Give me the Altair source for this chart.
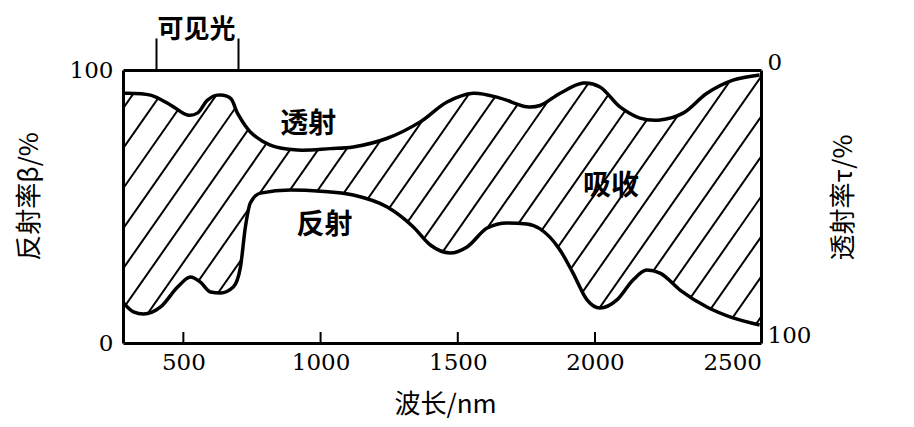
import altair as alt
import numpy as np
import pandas as pd

# ---- data ----
# transmission tau (%) (right axis, 0 at top)
wl_t = [282, 380, 453, 515, 551, 588, 624, 671, 697, 744, 817, 915, 1035, 1119, 1243,
        1363, 1461, 1556, 1654, 1752, 1800, 1873, 1957, 2018, 2091, 2164, 2237, 2321,
        2408, 2503, 2600]
tau = [8.5, 9.2, 12.8, 16.5, 15.8, 11.0, 9.2, 10.3, 15.8, 22.7, 27.5, 29.3, 28.8, 28.2, 25.0,
       19.0, 11.7, 8.5, 10.3, 13.5, 13.0, 8.5, 4.8, 6.2, 13.5, 17.6, 18.3, 15.8,
       8.5, 3.7, 1.8]

# reflectance beta (%) (left axis)
wl_r = [282, 318, 355, 417, 479, 526, 562, 599, 635, 682, 708, 726, 744, 781, 890, 1000,
        1119, 1243, 1338, 1400, 1472, 1534, 1607, 1680, 1752, 1800, 1873, 1920, 1971,
        2018, 2080, 2138, 2189, 2237, 2310, 2408, 2503, 2600]
beta = [14.7, 11.4, 10.6, 13.2, 20.5, 24.2, 22.3, 18.7, 18.3, 20.5, 27.8, 42.5, 51.3, 54.9,
        56.0, 55.6, 54.2, 49.8, 42.5, 35.9, 33.0, 35.2, 42.1, 44.0, 43.6, 41.8, 34.0, 25.6,
        15.8, 12.8, 15.8, 23.0, 26.7, 25.6, 19.4, 13.2, 9.2, 6.6]

x_ticks = [500, 1000, 1500, 2000, 2500]
inner_ticks = [500, 1000, 1500, 2000]
visible_band = [400, 700]

label_text = ["透射", "反射", "吸收"]
label_wl = [955, 1014, 2058]
label_val = [80.0, 42.9, 57.1]

# ---- tables ----
trans_df = pd.DataFrame({"wl": wl_t, "tau": tau})
refl_df = pd.DataFrame({"wl": wl_r, "beta": beta})
tick_df = pd.DataFrame({"wl": inner_ticks})
lab_df = pd.DataFrame({"wl": label_wl, "val": label_val, "text": label_text})

# hatch pattern (style only): diagonal lines across the plot
hatch_step, hatch_run = 102, 695
x0s = np.arange(2029 - 25 * hatch_step, 2605, hatch_step)
hatch_df = pd.DataFrame({"x0": x0s, "x1": x0s + hatch_run, "y0": 0, "y1": 100})

SERIF = "DejaVu Serif"
CJK = "Noto Sans CJK SC"

xs = alt.Scale(domain=[280, 2605], nice=False, zero=False)
ys = alt.Scale(domain=[0, 100], nice=False, zero=True)

bottom_axis = alt.Axis(orient="bottom", values=x_ticks, format="d", ticks=False, grid=False,
                       domainWidth=3, domainColor="black", labelFont=SERIF,
                       labelFontSize=23, labelColor="black", labelPadding=8,
                       labelFlush=False, title="波长/nm", titleFont=CJK,
                       titleFontSize=26, titleFontWeight="normal", titleColor="black",
                       titleX=322, titleY=61, titleAlign="center",
                       titleBaseline="middle", zindex=2)
left_axis = alt.Axis(orient="left", values=[0, 100], format="d", ticks=False, grid=False,
                     domainWidth=3, domainColor="black", labelFont=SERIF,
                     labelFontSize=23, labelColor="black", labelPadding=10,
                     title="反射率β/%", titleFont=CJK, titleFontSize=26,
                     titleFontWeight="normal", titleColor="black", titleX=-94,
                     titleY=126, titleAngle=270, titleAlign="center",
                     titleBaseline="middle", zindex=2)
right_axis = alt.Axis(orient="right", values=[0, 100], labelExpr="100 - datum.value",
                      ticks=False, grid=False, domainWidth=3, domainColor="black",
                      labelFont=SERIF, labelFontSize=23, labelColor="black",
                      labelPadding=6, labelOffset=-8, title="透射率τ/%",
                      titleFont=CJK, titleFontSize=26, titleFontWeight="normal",
                      titleColor="black", titleX=82, titleY=127, titleAngle=270,
                      titleAlign="center", titleBaseline="middle", zindex=2)
top_axis = alt.Axis(orient="top", values=visible_band, labels=False, grid=False,
                    tickSize=32, tickWidth=2, tickColor="black", domainWidth=3,
                    domainColor="black", title="可见光", titleFont=CJK,
                    titleFontSize=26, titleFontWeight="bold", titleColor="black",
                    titleX=73, titleY=-41, titleAlign="center",
                    titleBaseline="middle", zindex=2)

hatch = alt.Chart(hatch_df).mark_rule(color="black", strokeWidth=2, clip=True).encode(
    x=alt.X("x0:Q", scale=xs, axis=bottom_axis),
    x2="x1:Q",
    y=alt.Y("y0:Q", scale=ys, axis=left_axis),
    y2="y1:Q",
)

mask_bottom = alt.Chart(refl_df).mark_area(color="white", interpolate="monotone", opacity=1).encode(
    x=alt.X("wl:Q", scale=xs, axis=None),
    y=alt.Y("beta:Q", scale=ys, axis=None),
)

mask_top = alt.Chart(trans_df).transform_calculate(
    boundary="100 - datum.tau", top="100"
).mark_area(color="white", interpolate="catmull-rom", opacity=1).encode(
    x=alt.X("wl:Q", scale=xs, axis=None),
    y=alt.Y("boundary:Q", scale=ys, axis=None),
    y2="top:Q",
)

line_bottom = alt.Chart(refl_df).mark_line(color="black", strokeWidth=3.5, interpolate="monotone").encode(
    x=alt.X("wl:Q", scale=xs, axis=None),
    y=alt.Y("beta:Q", scale=ys, axis=None),
)

line_top = alt.Chart(trans_df).transform_calculate(
    boundary="100 - datum.tau"
).mark_line(color="black", strokeWidth=3.5, interpolate="catmull-rom").encode(
    x=alt.X("wl:Q", scale=xs, axis=top_axis),
    y=alt.Y("boundary:Q", scale=ys, axis=right_axis),
)

ticks = alt.Chart(tick_df).mark_rule(color="black", strokeWidth=2).encode(
    x=alt.X("wl:Q", scale=xs, axis=None),
    y=alt.value(273),
    y2=alt.value(262),
)

texts = alt.Chart(lab_df).mark_text(font=CJK, fontSize=28, fontWeight="bold", color="black").encode(
    x=alt.X("wl:Q", scale=xs, axis=None),
    y=alt.Y("val:Q", scale=ys, axis=None),
    text="text:N",
)

chart = alt.layer(hatch, mask_bottom, mask_top, line_bottom, line_top, ticks, texts).resolve_axis(
    x="independent", y="independent"
).properties(
    width=638, height=273,
    autosize=alt.AutoSizeParams(type="none"),
    padding={"left": 115, "top": 62, "right": 145, "bottom": 76},
    background="white",
).configure_view(strokeWidth=0)

chart.save("out.html", embed_options={"renderer": "svg", "actions": False})
